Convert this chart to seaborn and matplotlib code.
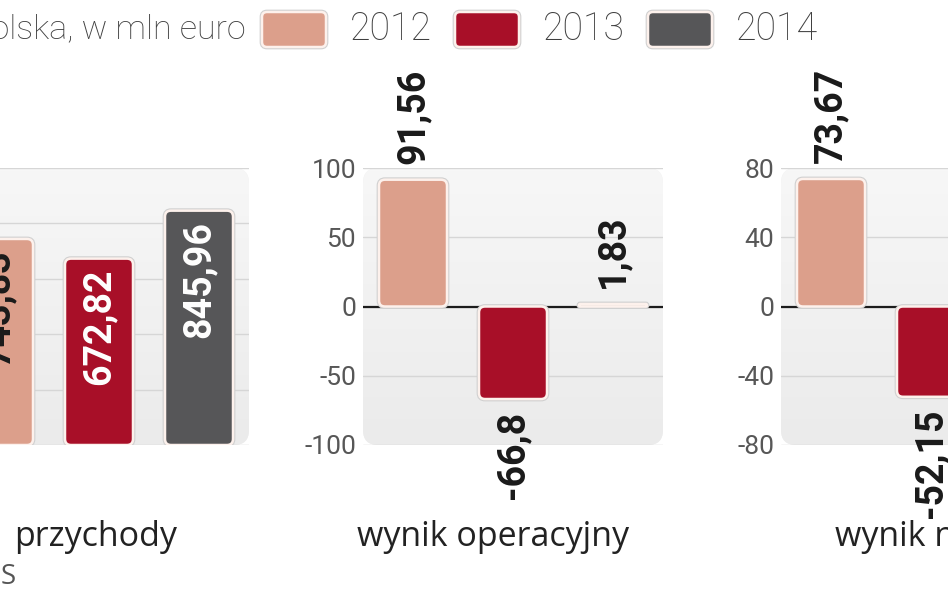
import numpy as np
import pandas as pd
import matplotlib
matplotlib.use("Agg")
import matplotlib.pyplot as plt
import matplotlib.patheffects as pe
from matplotlib.patches import FancyBboxPatch
from matplotlib.colors import LinearSegmentedColormap, to_rgb
import seaborn as sns

# ---------------- data ----------------
years = ["2012", "2013", "2014"]
categories = ["przychody", "wynik operacyjny", "wynik netto"]
przychody = [743.83, 672.82, 845.96]
wynik_operacyjny = [91.56, -66.8, 1.83]
wynik_netto = [73.67, -52.15, np.nan]   # 2014 value lies outside the visible crop
colors = ["#dc9f8b", "#a80f28", "#565658"]
legend_title = "Polska, w mln euro"
source_tail = "S"

sns.set_theme(style="white")
plt.rcParams["font.family"] = ["Roboto", "DejaVu Sans"]
plt.rcParams["axes.unicode_minus"] = False

W, H = 948, 593
fig = plt.figure(figsize=(W / 100, H / 100), dpi=100)
fig.patch.set_facecolor("white")


def px_axes(left, top, width, height):
    return fig.add_axes([left / W, 1 - (top + height) / H, width / W, height / H])


panels = [
    dict(values=przychody, left=-51, ylim=(0, 1000), ticks=[0, 200, 400, 600, 800, 1000],
         inside=True, zero=False, ticklabels=False),
    dict(values=wynik_operacyjny, left=363, ylim=(-100, 100), ticks=[-100, -50, 0, 50, 100],
         inside=False, zero=True, ticklabels=True),
    dict(values=wynik_netto, left=781, ylim=(-80, 80), ticks=[-80, -40, 0, 40, 80],
         inside=False, zero=True, ticklabels=True),
]

grad_cmap = LinearSegmentedColormap.from_list("bg", ["#f7f7f7", "#ebebeb"])
bar_fx = [pe.Stroke(linewidth=3.4, foreground="#d0d0d0"), pe.Normal()]


def fmt(v):
    return f"{v:g}".replace(".", ",")


for spec in panels:
    ax = px_axes(spec["left"], 168, 300, 277)
    df = pd.DataFrame({"rok": years, "wartosc": spec["values"]})
    sns.barplot(data=df, x="rok", y="wartosc", hue="rok", order=years, hue_order=years,
                palette=colors, width=0.68, saturation=1, legend=False, ax=ax)
    ax.set_xlim(-0.5, 2.5)
    ax.set_ylim(*spec["ylim"])
    ax.set_yticks(spec["ticks"])
    ax.set_xticks([])
    ax.set_xlabel("")
    ax.set_ylabel("")
    for s in ax.spines.values():
        s.set_visible(False)
    ax.set_facecolor("none")
    ax.tick_params(axis="y", length=0, pad=5, labelsize=19, labelcolor="#575757",
                   labelleft=spec["ticklabels"])
    ax.set_axisbelow(True)
    ax.yaxis.grid(True, color="#d6d6d6", linewidth=1.0)

    # rounded light background with a soft vertical gradient
    bg = FancyBboxPatch((0, 0), 1, 1, boxstyle="round,pad=0,rounding_size=0.05",
                        mutation_aspect=300 / 277, transform=ax.transAxes,
                        facecolor="#f1f1f1", edgecolor="none", zorder=0.1, clip_on=False)
    ax.add_patch(bg)
    im = ax.imshow(np.linspace(0, 1, 64)[:, None], cmap=grad_cmap, extent=[0, 1, 0, 1],
                   transform=ax.transAxes, aspect="auto", zorder=0.2, interpolation="bilinear")
    im.set_clip_path(bg)
    ax.set_xlim(-0.5, 2.5)
    ax.set_ylim(*spec["ylim"])

    if spec["zero"]:
        ax.axhline(0, color="#1c1c1c", linewidth=1.6, zorder=2)

    # pixel scale for rounded corners
    t = ax.transData
    px_x = t.transform((1, 0))[0] - t.transform((0, 0))[0]
    px_y = t.transform((0, 1))[1] - t.transform((0, 0))[1]

    for p in list(ax.patches):
        if p is bg:
            continue
        x, y, w, h = p.get_x(), p.get_y(), p.get_width(), p.get_height()
        if not np.isfinite(h) or w == 0:
            continue
        fc = p.get_facecolor()
        idx = int(round(x + w / 2))
        v = spec["values"][idx]
        y0 = min(y, y + h)
        hh = abs(h)
        r_px = min(6.0, hh * px_y / 2, w * px_x / 2)
        rb = FancyBboxPatch((x, y0), w, hh,
                            boxstyle=f"round,pad=0,rounding_size={r_px / px_x}",
                            mutation_aspect=px_x / px_y,
                            facecolor=fc, edgecolor="#fdf1ec", linewidth=1.8, zorder=3)
        rb.set_path_effects(bar_fx)
        p.remove()
        ax.add_patch(rb)

        cx = x + w / 2
        if spec["inside"]:
            lum = np.dot(to_rgb(fc), [0.299, 0.587, 0.114])
            ax.annotate(fmt(v), (cx, v), xytext=(0, -10), textcoords="offset pixels",
                        rotation=90, ha="center", va="top", fontsize=27, fontweight="bold",
                        color="#1a1a1a" if lum > 0.5 else "white", zorder=5)
        else:
            off = 16 if v >= 0 else -12
            ax.annotate(fmt(v), (cx, v), xytext=(0, off), textcoords="offset pixels",
                        rotation=90, ha="center", va="bottom" if v >= 0 else "top",
                        fontsize=27, fontweight="bold", color="#1a1a1a", zorder=5,
                        annotation_clip=False)

# category labels under the panels
cat_x = [96, 493, 835]
cat_ha = ["center", "center", "left"]
for name, cx, ha in zip(categories, cat_x, cat_ha):
    fig.text(cx / W, 1 - 537 / H, name, ha=ha, va="center", fontsize=24.5,
             family=["Open Sans", "DejaVu Sans"], color="#222222")

# source tail
fig.text(1 / W, 1 - 577 / H, source_tail, ha="left", va="center", fontsize=20,
         family=["Open Sans", "DejaVu Sans"], color="#555555")

# legend row
fig.text(246 / W, 1 - 29 / H, legend_title, ha="right", va="center", fontsize=24.5,
         fontweight="light", color="#3f3f3f")
for i, (yr, c) in enumerate(zip(years, colors)):
    sx = 262 + i * 193
    sw = FancyBboxPatch((sx / W, 1 - 47 / H), 64 / W, 35 / H,
                        boxstyle=f"round,pad=0,rounding_size={5 / W}",
                        mutation_aspect=W / H, transform=fig.transFigure,
                        facecolor=c, edgecolor="#fdf1ec", linewidth=1.8)
    sw.set_path_effects(bar_fx)
    fig.add_artist(sw)
    fig.text((sx + 88) / W, 1 - 29 / H, yr, ha="left", va="center", fontsize=27,
             fontweight="light", color="#3f3f3f")

fig.savefig("out.png", dpi=100)
